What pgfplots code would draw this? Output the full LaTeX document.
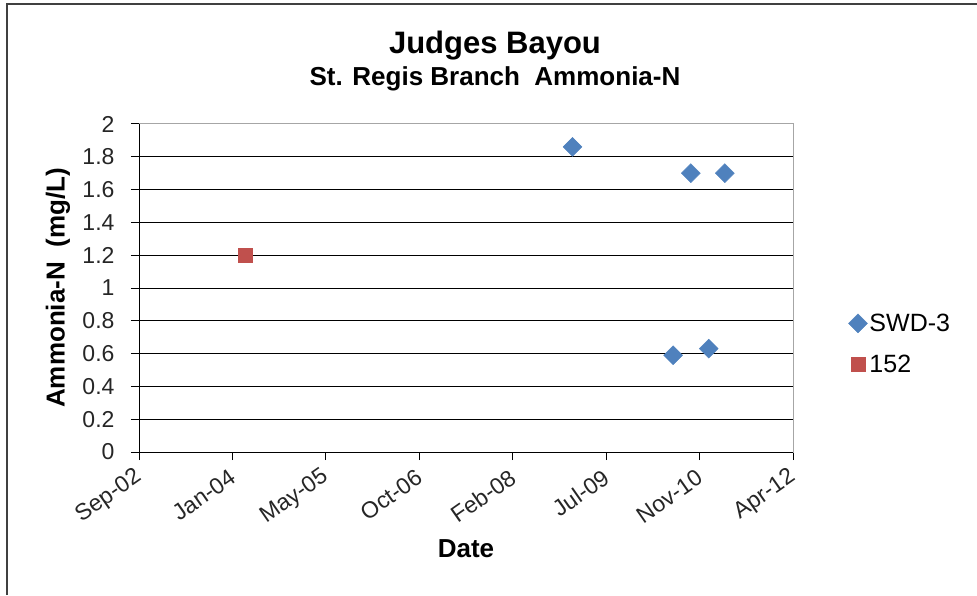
\documentclass[border=0pt]{standalone}
\usepackage{fontspec}
\setmainfont{Liberation Sans}
\usepackage{pgfplots}
\pgfplotsset{compat=1.18}
\definecolor{swdBlue}{HTML}{4F81BD}
\definecolor{stRed}{HTML}{C0504D}

\begin{document}
\begin{tikzpicture}[x=1pt,y=1pt]
\useasboundingbox (0,0) rectangle (977,595);
% chart frame
\draw[line width=1.5pt, black!75] (7,0) -- (7,591) -- (977,591);
\node[font=\bfseries\fontsize{31}{34}\selectfont, anchor=base] at (495,541) {Judges Bayou};
\node[font=\bfseries\fontsize{26}{29}\selectfont, anchor=base] at (495,509) {St. Regis Branch\ \ Ammonia-N};
% x = days after 1 Sep 2002
\begin{axis}[
  at={(139pt,143pt)}, anchor=south west,
  width=654pt, height=328pt, scale only axis,
  xmin=0, xmax=3500, ymin=0, ymax=2,
  axis line style={draw=gray!70, line width=1pt},
  tick align=outside, tick pos=left,
  major tick length=8pt,
  tick style={black, line width=1pt},
  ymajorgrids, grid style={black, line width=1pt},
  xtick={0,500,1000,1500,2000,2500,3000,3500},
  xticklabels={Sep-02,Jan-04,May-05,Oct-06,Feb-08,Jul-09,Nov-10,Apr-12},
  ytick={0,0.2,0.4,0.6,0.8,1,1.2,1.4,1.6,1.8,2},
  /pgf/number format/assume math mode=true,
  tick label style={font=\fontsize{23}{26}\selectfont, text=black!85},
  yticklabel style={xshift=-13pt},
  xticklabel style={yshift=-13pt, xshift=3pt, rotate=35, anchor=east},
  xlabel={Date}, ylabel={Ammonia-N\ \ (mg/L)},
  xlabel style={font=\bfseries\fontsize{26}{29}\selectfont, at={(axis description cs:0.5,-0.296)}, anchor=center},
  ylabel style={font=\bfseries\fontsize{26}{29}\selectfont, at={(axis description cs:-0.124,0.5)}, anchor=center},
  legend style={at={(1.08,0.33)}, anchor=west, draw=none, fill=none,
    font=\fontsize{25}{28}\selectfont, row sep=18pt},
  legend cell align=left,
  clip=false,
]
\addplot[only marks, mark=square*, mark size=6.7pt, mark options={rotate=45, fill=swdBlue, draw=swdBlue}]
  coordinates {(2320,1.86) (2858,0.59) (2953,1.70) (3049,0.63) (3135,1.70)};
\addlegendentry{SWD-3}
\addplot[only marks, mark=square*, mark size=7pt, mark options={fill=stRed, draw=stRed}]
  coordinates {(571,1.2)};
\addlegendentry{152}
\draw[black, line width=1pt] (rel axis cs:0,1) -- (rel axis cs:0,0) -- (rel axis cs:1,0);
\end{axis}
\end{tikzpicture}
\end{document}
